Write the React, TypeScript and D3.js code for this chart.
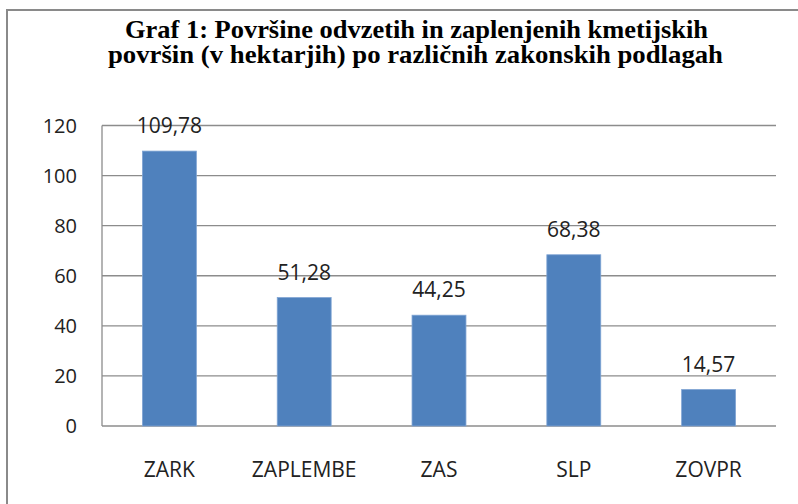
import { useEffect, useRef } from 'react';
import * as d3 from 'd3';

// chart data
const categories = ['ZARK', 'ZAPLEMBE', 'ZAS', 'SLP', 'ZOVPR'];
const values = [109.78, 51.28, 44.25, 68.38, 14.57];
const valueLabels = ['109,78', '51,28', '44,25', '68,38', '14,57'];
const yTicks = [0, 20, 40, 60, 80, 100, 120];
const titleLines = [
  'Graf 1: Površine odvzetih in zaplenjenih kmetijskih',
  'površin (v hektarjih) po različnih zakonskih podlagah',
];

const W = 798;
const H = 504;
const plot = { left: 102, right: 776, top: 125.5, bottom: 426 };
const labelFont = '"Open Sans", "Noto Sans", sans-serif';

const App = () => {
  const ref = useRef<SVGSVGElement | null>(null);

  useEffect(() => {
    const svg = d3.select(ref.current);
    svg.selectAll('*').remove();

    // outer chart border (right/bottom run off the page)
    svg.append('rect')
      .attr('x', 7)
      .attr('y', 10)
      .attr('width', 820)
      .attr('height', 520)
      .attr('fill', 'white')
      .attr('stroke', '#8a8a8a')
      .attr('stroke-width', 2);

    // title, bold condensed serif
    const titleBox = [
      { x1: 125, x2: 708, y: 38 },
      { x1: 108, x2: 723, y: 63 },
    ];
    titleLines.forEach((t, i) => {
      const b = titleBox[i];
      svg.append('text')
        .attr('x', b.x1)
        .attr('y', b.y)
        .attr('textLength', b.x2 - b.x1)
        .attr('lengthAdjust', 'spacingAndGlyphs')
        .attr('font-family', '"Liberation Serif", "Times New Roman", serif')
        .attr('font-weight', 'bold')
        .attr('font-size', 25)
        .attr('fill', '#000')
        .text(t);
    });

    const x = d3.scaleBand<string>()
      .domain(categories)
      .range([plot.left, plot.right])
      .paddingInner(0.6)
      .paddingOuter(0.3);

    const y = d3.scaleLinear()
      .domain([0, 120])
      .range([plot.bottom, plot.top]);

    // gridlines
    svg.append('g')
      .selectAll('line')
      .data(yTicks)
      .enter()
      .append('line')
      .attr('x1', plot.left)
      .attr('x2', plot.right)
      .attr('y1', d => y(d))
      .attr('y2', d => y(d))
      .attr('stroke', '#8c8c8c')
      .attr('stroke-width', 1.3);

    // y axis line
    svg.append('line')
      .attr('x1', plot.left)
      .attr('x2', plot.left)
      .attr('y1', plot.top)
      .attr('y2', plot.bottom)
      .attr('stroke', '#8c8c8c')
      .attr('stroke-width', 1.3);

    // y tick labels
    svg.append('g')
      .selectAll('text')
      .data(yTicks)
      .enter()
      .append('text')
      .attr('x', 77)
      .attr('y', d => y(d))
      .attr('dy', '0.36em')
      .attr('text-anchor', 'end')
      .attr('font-family', labelFont)
      .attr('font-size', 20)
      .attr('fill', '#222')
      .text(d => d);

    // bars
    svg.append('g')
      .selectAll('rect')
      .data(values)
      .enter()
      .append('rect')
      .attr('x', (d, i) => x(categories[i]) as number)
      .attr('y', d => y(d))
      .attr('width', x.bandwidth())
      .attr('height', d => y(0) - y(d))
      .attr('fill', '#4f81bd')
      .attr('stroke', '#7fa4d3')
      .attr('stroke-width', 0.8);

    // value labels
    svg.append('g')
      .selectAll('text')
      .data(values)
      .enter()
      .append('text')
      .attr('x', (d, i) => (x(categories[i]) as number) + x.bandwidth() / 2)
      .attr('y', d => y(d) - 18)
      .attr('text-anchor', 'middle')
      .attr('font-family', labelFont)
      .attr('font-size', 21)
      .attr('fill', '#222')
      .text((d, i) => valueLabels[i]);

    // category labels
    svg.append('g')
      .selectAll('text')
      .data(categories)
      .enter()
      .append('text')
      .attr('x', d => (x(d) as number) + x.bandwidth() / 2)
      .attr('y', 477)
      .attr('text-anchor', 'middle')
      .attr('font-family', labelFont)
      .attr('font-size', 21)
      .attr('fill', '#222')
      .text(d => d);
  }, []);

  return (
    <svg
      ref={ref}
      width={W}
      height={H}
      style={{ position: 'absolute', left: 0, top: 0, background: 'white' }}
    />
  );
};

export default App;
